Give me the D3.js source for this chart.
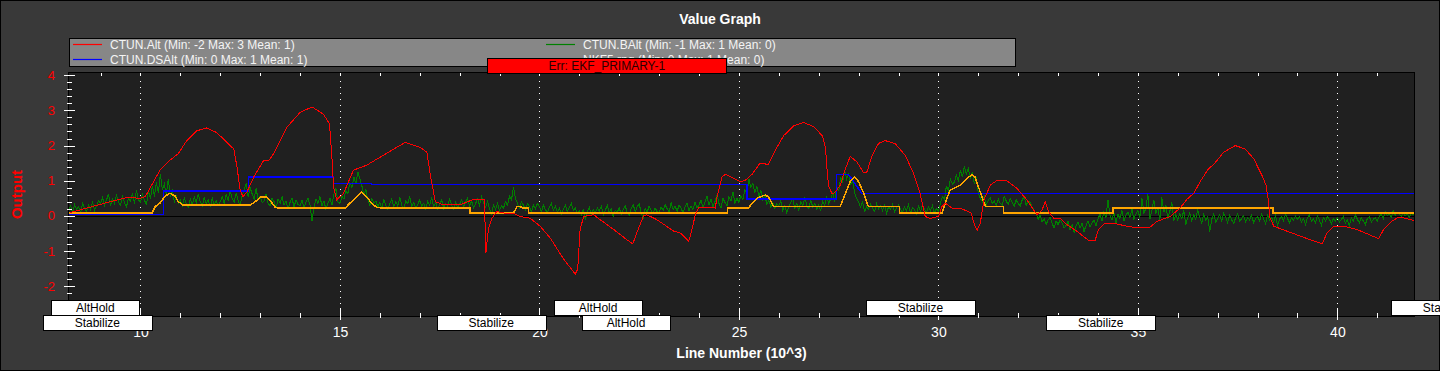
<!DOCTYPE html>
<html>
<head>
<meta charset="utf-8">
<script src="https://cdn.jsdelivr.net/npm/d3@7/dist/d3.min.js"></script>
<style>
  body { margin: 0; background: #393939; }
  svg { display: block; font-family: "Liberation Sans", Arial, sans-serif; }
</style>
</head>
<body>
<svg></svg>
<script>
// ---- data (x = line number / 1000) ----
const altData = [
  [8.24,0.09],[9.24,0.40],[9.66,0.52],[9.99,0.50],[10.12,0.54],[10.49,1.30],[10.74,1.58],[10.95,1.77],
  [11.16,2.14],[11.41,2.42],[11.66,2.50],[11.91,2.37],[12.17,2.09],[12.34,1.90],[12.42,1.39],[12.50,0.73],
  [12.57,0.54],[12.67,0.68],[12.84,1.10],[13.09,1.58],[13.21,1.56],[13.34,1.77],[13.67,2.52],[14.00,2.94],
  [14.30,3.10],[14.59,2.89],[14.74,2.61],[14.80,1.67],[14.84,0.83],[14.92,0.45],[15.09,0.64],[15.34,1.30],
  [15.67,1.44],[16.01,1.67],[16.35,1.90],[16.64,2.09],[17.01,1.95],[17.18,1.81],[17.26,1.20],[17.39,0.40],
  [17.60,0.31],[18.01,0.31],[18.31,0.45],[18.62,0.45],[18.66,-1.05],[18.72,-0.39],[18.81,-0.07],[18.93,0.12],
  [19.10,0.08],[19.36,0.06],[19.52,-0.02],[19.77,-0.07],[20.02,-0.30],[20.27,-0.63],[20.61,-1.24],[20.90,-1.66],
  [20.96,-1.52],[21.02,-0.39],[21.11,-0.02],[21.36,0.03],[21.52,-0.11],[21.86,-0.39],[22.19,-0.68],[22.34,-0.80],
  [22.44,-0.49],[22.61,0.00],[22.69,0.03],[22.94,-0.11],[23.37,-0.44],[23.53,-0.49],[23.74,-0.72],[23.78,-0.58],
  [23.91,0.03],[23.99,0.24],[24.20,0.24],[24.41,0.22],[24.45,0.54],[24.58,1.11],[24.66,1.18],[24.83,1.09],
  [25.03,0.97],[25.16,1.01],[25.33,1.18],[25.53,1.50],[25.74,1.46],[25.91,1.86],[26.12,2.28],[26.37,2.56],
  [26.62,2.66],[26.87,2.54],[27.09,2.28],[27.17,1.95],[27.21,1.30],[27.25,0.83],[27.34,0.62],[27.42,0.68],
  [27.54,0.87],[27.67,1.34],[27.79,1.69],[27.96,1.53],[28.13,1.22],[28.21,1.25],[28.34,1.72],[28.50,2.06],
  [28.67,2.14],[28.92,2.05],[29.17,1.72],[29.38,1.20],[29.54,0.64],[29.67,-0.02],[29.79,-0.08],[30.00,-0.02],
  [30.09,0.26],[30.17,0.36],[30.34,0.22],[30.54,0.22],[30.82,0.08],[30.89,-0.21],[30.97,-0.42],[31.05,-0.21],
  [31.14,0.45],[31.30,0.87],[31.47,1.01],[31.72,0.99],[31.97,0.78],[32.22,0.45],[32.47,0.03],[32.60,0.17],
  [32.68,0.40],[32.76,0.12],[32.89,-0.07],[33.05,-0.07],[33.22,-0.25],[33.47,-0.44],[33.76,-0.70],[33.93,-0.70],
  [34.01,-0.39],[34.18,-0.21],[34.39,-0.21],[34.65,-0.28],[34.90,-0.33],[35.31,-0.32],[35.48,-0.16],[35.81,-0.02],
  [36.06,0.22],[36.23,0.47],[36.40,0.64],[36.56,0.97],[36.77,1.34],[36.90,1.46],[37.15,1.81],[37.44,2.00],
  [37.69,1.90],[37.90,1.63],[38.11,1.15],[38.21,0.87],[38.27,0.45],[38.31,-0.07],[38.41,-0.30],[38.74,-0.44],
  [39.07,-0.58],[39.41,-0.72],[39.62,-0.80],[39.74,-0.49],[39.91,-0.30],[40.16,-0.30],[40.49,-0.39],[40.82,-0.55],
  [41.03,-0.65],[41.16,-0.39],[41.36,-0.16],[41.53,-0.04],[41.70,-0.07],[41.92,-0.14]
];

const dsAltData = [
  [8.21,0.03],[10.58,0.03],[10.58,0.70],[12.71,0.70],[12.71,1.11],[14.84,1.11],[14.84,0.92],[15.79,0.92],
  [15.79,0.89],[25.20,0.89],[25.20,0.48],[27.44,0.48],[27.44,1.17],[27.75,1.17],[28.08,0.64],[41.92,0.64]
];

const rngData = [
  [8.21,0.08],[10.29,0.08],[10.37,0.26],[10.49,0.36],[10.62,0.56],[10.74,0.64],[10.87,0.56],[10.95,0.40],
  [11.06,0.31],[12.75,0.31],[12.88,0.40],[13.00,0.53],[13.17,0.53],[13.30,0.36],[13.38,0.24],[13.46,0.22],
  [15.13,0.22],[15.25,0.36],[15.42,0.54],[15.54,0.67],[15.67,0.54],[15.79,0.36],[15.92,0.24],[16.05,0.22],
  [18.26,0.22],[18.26,0.08],[19.35,0.08],[19.44,0.26],[19.52,0.26],[19.59,0.22],[19.73,0.22],[19.73,0.08],
  [24.72,0.08],[24.72,0.22],[25.24,0.22],[25.33,0.36],[25.45,0.50],[25.66,0.59],[25.74,0.54],[25.87,0.26],
  [27.54,0.26],[27.67,0.64],[27.79,0.97],[27.90,1.11],[28.00,0.97],[28.13,0.64],[28.21,0.36],[28.25,0.26],
  [29.02,0.26],[29.02,0.08],[30.09,0.08],[30.17,0.36],[30.29,0.73],[30.38,0.78],[30.54,0.87],[30.71,1.06],
  [30.84,1.17],[30.92,1.10],[31.00,0.83],[31.12,0.45],[31.18,0.26],[31.63,0.26],[31.63,0.08],[34.38,0.08],
  [34.38,0.22],[38.39,0.22],[38.39,0.08],[41.92,0.08]
];

// barometer altitude, one sample every 0.05 (thousand lines) from 8.2
const bAltStart = 8.2;
const bAltStep = 0.05;
const bAltValues = [
  0.15,0.28,0.10,0.32,0.18,0.25,0.08,0.35,0.22,0.12,0.30,0.18,0.38,0.15,0.28,0.42,
  0.35,0.52,0.30,0.45,0.62,0.28,0.48,0.35,0.58,0.40,0.30,0.55,0.38,0.25,0.50,0.42,0.65,0.35,0.72,0.45,
  0.38,0.62,0.45,0.30,0.70,0.48,0.85,0.55,0.95,0.65,1.20,0.75,0.90,0.60,1.05,0.55,0.70,0.40,0.55,0.35,
  0.45,0.28,0.50,0.35,0.25,0.48,0.30,0.55,0.38,0.62,0.40,0.28,0.52,0.35,0.45,0.25,0.50,0.32,0.42,0.28,
  0.40,0.55,0.35,0.60,0.45,0.72,0.50,0.38,0.65,0.42,0.30,0.58,0.75,0.92,0.55,0.80,0.62,0.48,0.78,0.45,
  0.55,0.38,0.42,0.62,0.35,0.28,0.50,0.40,0.22,0.48,0.35,0.55,0.30,0.42,0.20,0.38,0.50,0.25,0.45,0.32,
  0.28,0.45,0.22,0.38,0.50,0.30,-0.15,0.25,0.48,0.35,0.55,0.28,0.42,0.18,0.35,0.50,0.30,0.62,0.78,0.40,
  0.35,0.55,0.48,0.72,0.62,0.95,0.80,1.10,0.90,1.25,1.05,0.85,0.60,0.75,0.45,0.30,0.50,0.35,0.42,0.25,
  0.38,0.22,0.45,0.30,0.18,0.35,0.48,0.25,0.40,0.28,0.52,0.30,0.20,0.42,0.35,0.55,0.25,0.38,0.22,0.32,
  0.45,0.28,0.35,0.18,0.40,0.30,0.52,0.25,0.38,0.20,0.32,0.45,0.22,0.35,0.28,0.48,0.30,0.18,0.38,0.25,
  0.32,0.45,0.25,0.38,0.50,0.28,0.42,0.22,0.35,0.48,0.30,0.55,0.38,0.25,0.40,0.20,0.05,0.30,0.18,0.35,
  0.15,0.28,0.22,0.40,0.30,0.55,0.45,0.82,0.50,0.35,0.22,0.40,0.30,0.18,0.35,0.25,0.12,0.30,0.20,0.35,
  0.25,0.12,0.30,0.18,0.08,0.25,0.35,0.15,0.28,0.10,0.22,0.05,0.18,0.30,0.12,0.25,0.35,0.15,0.22,0.08,
  0.15,0.02,0.20,-0.12,0.10,0.25,0.05,0.18,0.08,0.22,0.12,0.28,0.02,0.15,0.30,0.08,0.20,-0.02,0.15,0.10,
  0.22,0.05,0.18,0.28,0.10,0.02,0.20,0.32,0.12,0.25,0.35,0.08,-0.08,0.20,0.10,0.28,0.15,0.05,0.22,0.12,
  0.08,0.25,0.15,0.32,0.20,0.10,0.38,0.18,0.28,0.12,0.30,0.22,0.08,0.25,0.35,0.15,0.28,0.18,0.40,0.22,
  0.30,0.45,0.22,0.38,0.55,0.30,0.48,0.25,0.40,0.60,0.35,0.22,0.50,0.38,0.28,0.55,0.42,0.68,0.35,0.50,
  0.38,0.58,0.45,0.75,0.60,1.05,0.80,0.92,0.65,0.85,0.55,0.72,0.45,0.60,0.32,0.45,0.25,0.38,0.20,0.35,
  0.28,0.42,0.15,0.30,0.08,0.25,0.38,0.48,0.22,0.35,0.15,0.40,0.28,0.52,0.30,0.20,0.45,0.25,0.35,0.18,
  0.30,0.15,0.42,0.28,0.55,0.35,0.48,0.65,0.40,0.85,0.70,1.10,0.95,1.30,1.05,1.22,0.90,1.00,0.65,0.50,
  0.38,0.25,0.40,0.10,0.28,0.18,0.32,0.22,0.12,0.35,0.20,0.28,0.15,0.30,0.08,0.25,0.18,0.32,0.12,0.22,
  0.30,0.18,0.10,0.25,0.15,0.32,0.08,0.22,0.18,0.05,0.28,0.12,0.30,0.20,0.10,0.25,0.15,0.28,0.08,0.20,
  0.12,0.35,0.55,0.45,0.85,0.70,1.05,0.90,0.95,1.15,1.00,1.30,1.10,1.40,1.20,1.35,1.05,1.25,0.90,1.10,
  0.65,0.50,0.40,0.55,0.30,0.45,0.52,0.35,0.42,0.28,0.48,0.35,0.30,0.55,0.42,0.32,0.50,0.38,0.28,0.45,
  0.35,0.28,0.45,0.55,0.30,0.42,0.38,0.25,0.15,0.05,-0.10,0.02,-0.18,-0.08,-0.25,-0.12,-0.05,-0.22,-0.35,-0.15,
  -0.25,-0.12,-0.20,-0.35,-0.28,-0.15,-0.40,-0.25,-0.48,-0.30,-0.18,-0.35,-0.22,-0.45,-0.28,-0.15,-0.32,-0.20,-0.12,-0.28,
  -0.10,0.05,-0.15,0.12,-0.05,0.45,0.02,-0.12,0.08,-0.20,0.05,-0.08,0.15,-0.15,0.02,0.10,-0.05,0.20,-0.10,0.05,
  0.15,-0.05,0.50,0.08,0.20,0.62,-0.10,0.15,0.45,0.05,0.25,-0.12,0.52,0.10,0.30,-0.08,0.12,0.40,-0.15,0.05,
  -0.12,0.05,-0.08,0.15,-0.25,-0.05,0.08,-0.15,0.02,-0.10,0.18,-0.05,-0.22,0.05,-0.12,-0.02,-0.45,-0.10,0.05,-0.18,
  -0.08,0.02,-0.15,0.08,-0.05,-0.20,0.02,-0.12,-0.22,-0.05,0.05,-0.15,-0.08,0.00,-0.18,-0.05,-0.12,0.02,-0.20,-0.08,
  -0.02,-0.15,0.05,-0.08,-0.22,0.02,-0.12,-0.05,-0.18,0.00,-0.28,-0.10,-0.02,-0.15,0.05,-0.08,-0.20,-0.05,-0.12,0.00,
  -0.10,-0.02,-0.18,-0.08,-0.25,-0.05,0.02,-0.15,-0.08,-0.20,0.00,-0.12,-0.28,-0.05,-0.15,-0.02,-0.10,-0.22,-0.08,-0.15,
  -0.05,-0.18,-0.10,-0.02,-0.22,-0.12,-0.28,-0.05,-0.15,0.02,-0.10,-0.20,-0.05,-0.15,-0.25,-0.08,-0.02,-0.18,-0.10,-0.05,
  -0.15,-0.02,0.05,-0.08,0.12,0.00,0.08,-0.05,0.15,0.02,0.10,0.05,-0.02,0.10,0.00,0.06,-0.05,0.08,0.02,0.05
];

const seriesNames = ["CTUN.Alt", "CTUN.BAlt", "CTUN.DSAlt", "NKF5.rng"];
const seriesStats = ["(Min: -2 Max: 3 Mean: 1)", "(Min: -1 Max: 1 Mean: 0)", "(Min: 0 Max: 1 Mean: 1)", "(Min: 0 Max: 1 Mean: 0)"];

const modeNames = ["AltHold", "Stabilize", "Stabilize", "AltHold", "AltHold", "Stabilize", "Stabilize", "Stabilize"];
const modeAt = [8.87, 8.92, 18.79, 21.47, 22.17, 29.55, 34.07, 42.71];
const modeRow = [0, 1, 1, 0, 1, 0, 1, 0];

const errNames = ["Err: EKF_PRIMARY-1"];
const errAt = [21.69];

const yMajor = [-2, -1, 0, 1, 2, 3, 4];
const xMajor = [10, 15, 20, 25, 30, 35, 40];

// ---- layout ----
const W = 1440, H = 371;
const margin = { top: 73, right: 26, bottom: 55, left: 69 };
const width = W - margin.left - margin.right;
const height = H - margin.top - margin.bottom;

const colors = { alt: "#ff0000", balt: "#008000", dsalt: "#0000ff", rng: "#ffa500" };
const legendColors = [colors.alt, colors.balt, colors.dsalt, colors.rng];
const modeBoxWidth = { AltHold: 88, Stabilize: 109 };

const svg = d3.select("svg").attr("width", W).attr("height", H);

svg.append("rect")
    .attr("x", 0.5).attr("y", 0.5)
    .attr("width", W - 1).attr("height", H - 1)
    .attr("fill", "#393939")
    .attr("stroke", "#000");

const x = d3.scaleLinear().domain([8.21, 41.92]).range([0, width]);
const y = d3.scaleLinear().domain([-2.855, 4.066]).range([height, 0]);

const g = svg.append("g").attr("transform", `translate(${margin.left},${margin.top})`);

g.append("rect").attr("width", width).attr("height", height).attr("fill", "#202020");

g.append("clipPath").attr("id", "plotclip")
    .append("rect").attr("width", width).attr("height", height);

// dotted vertical grid
g.append("g").selectAll("line").data(xMajor).join("line")
    .attr("x1", d => Math.round(x(d)) + 0.5).attr("x2", d => Math.round(x(d)) + 0.5)
    .attr("y1", 2).attr("y2", height)
    .attr("stroke", "#fff")
    .attr("stroke-dasharray", "1,5")
    .attr("shape-rendering", "crispEdges");

// zero line
g.append("line")
    .attr("x1", 0).attr("x2", width)
    .attr("y1", Math.round(y(0)) + 0.5).attr("y2", Math.round(y(0)) + 0.5)
    .attr("stroke", "#000")
    .attr("shape-rendering", "crispEdges");

const plot = g.append("g").attr("clip-path", "url(#plotclip)");
const line = d3.line().x(d => x(d[0])).y(d => y(d[1]));

const bAltData = bAltValues.map((v, i) => [bAltStart + i * bAltStep, v]);

plot.append("path").datum(bAltData)
    .attr("fill", "none").attr("stroke", colors.balt).attr("stroke-width", 1)
    .attr("shape-rendering", "crispEdges")
    .attr("d", line);

plot.append("path").datum(dsAltData)
    .attr("fill", "none").attr("stroke", colors.dsalt).attr("stroke-width", 1.5)
    .attr("shape-rendering", "crispEdges")
    .attr("d", line);

plot.append("path").datum(rngData)
    .attr("fill", "none").attr("stroke", colors.rng).attr("stroke-width", 1.5)
    .attr("shape-rendering", "crispEdges")
    .attr("d", line);

plot.append("path").datum(altData)
    .attr("fill", "none").attr("stroke", colors.alt).attr("stroke-width", 1)
    .attr("shape-rendering", "crispEdges")
    .attr("d", line);

// plot frame
g.append("rect")
    .attr("x", -0.5).attr("y", -0.5)
    .attr("width", width + 1).attr("height", height + 1)
    .attr("fill", "none").attr("stroke", "#000")
    .attr("shape-rendering", "crispEdges");

// ---- axes ----
const yMinor = d3.range(-2.8, 4.01, 0.2).map(v => +v.toFixed(1)).filter(v => !Number.isInteger(v));
const xMinor = d3.range(9, 42, 1).filter(v => v % 5 !== 0);
const xAll = d3.range(9, 42, 1);

function styleAxis(sel) {
    sel.select(".domain").remove();
    sel.selectAll("line").attr("stroke", "#fff").attr("shape-rendering", "crispEdges");
    return sel;
}

// left axis: major ticks across the frame, labels in red
g.append("g")
    .call(d3.axisLeft(y).tickValues(yMajor).tickSize(5).tickPadding(9).tickFormat(d => String(d)))
    .call(styleAxis)
    .call(s => s.selectAll("text").attr("fill", "#ff0000").style("font-size", "13px").style("font-family", "Liberation Sans, Arial, sans-serif"));
g.append("g")
    .call(d3.axisRight(y).tickValues(yMajor).tickSize(6).tickFormat(""))
    .call(styleAxis);
g.append("g")
    .call(d3.axisLeft(y).tickValues(yMinor).tickSize(2).tickFormat(""))
    .call(styleAxis);
g.append("g")
    .call(d3.axisRight(y).tickValues(yMinor).tickSize(3).tickFormat(""))
    .call(styleAxis);

// bottom axis
g.append("g").attr("transform", `translate(0,${height})`)
    .call(d3.axisBottom(x).tickValues(xMajor).tickSize(4).tickPadding(7).tickFormat(d => String(d)))
    .call(styleAxis)
    .call(s => s.selectAll("text").attr("fill", "#ffffff").style("font-size", "14px").style("font-family", "Liberation Sans, Arial, sans-serif"));
g.append("g").attr("transform", `translate(0,${height})`)
    .call(d3.axisTop(x).tickValues(xMajor).tickSize(8).tickFormat(""))
    .call(styleAxis);
g.append("g").attr("transform", `translate(0,${height})`)
    .call(d3.axisTop(x).tickValues(xMinor).tickSize(3).tickFormat(""))
    .call(styleAxis);
g.append("g").attr("transform", `translate(0,${height})`)
    .call(d3.axisBottom(x).tickValues(xMinor).tickSize(2).tickFormat(""))
    .call(styleAxis);

// top frame ticks pointing in
g.append("g")
    .call(d3.axisBottom(x).tickValues(xAll).tickSize(3).tickFormat(""))
    .call(styleAxis);

// ---- titles ----
svg.append("text")
    .attr("x", W / 2).attr("y", 24)
    .attr("text-anchor", "middle")
    .attr("fill", "#ffffff")
    .style("font-size", "14px").style("font-weight", "bold")
    .text("Value Graph");

svg.append("text")
    .attr("x", margin.left + width / 2).attr("y", 358)
    .attr("text-anchor", "middle")
    .attr("fill", "#ffffff")
    .style("font-size", "14px").style("font-weight", "bold")
    .text("Line Number (10^3)");

svg.append("text")
    .attr("transform", `translate(22,${margin.top + height / 2}) rotate(-90)`)
    .attr("text-anchor", "middle")
    .attr("fill", "#ff0000")
    .style("font-size", "15px").style("font-weight", "bold")
    .text("Output");

// ---- legend ----
const legend = svg.append("g").attr("transform", "translate(69,38)");
legend.append("rect")
    .attr("x", 0.5).attr("y", 0.5)
    .attr("width", 946).attr("height", 28)
    .attr("fill", "#878787").attr("stroke", "#000")
    .attr("shape-rendering", "crispEdges");

const legendCols = [4, 477];
seriesNames.forEach((name, i) => {
    const cx = legendCols[i % 2];
    const cy = i < 2 ? 6.5 : 21.5;
    legend.append("line")
        .attr("x1", cx).attr("x2", cx + 29)
        .attr("y1", cy).attr("y2", cy)
        .attr("stroke", legendColors[i]).attr("stroke-width", 1.2);
    legend.append("text")
        .attr("x", cx + 37).attr("y", cy + 4.5)
        .attr("fill", "#f4f4f4")
        .style("font-size", "12px")
        .text(`${name} ${seriesStats[i]}`);
});

// ---- error annotation ----
const errG = svg.append("g");
errNames.forEach((name, i) => {
    const cx = margin.left + x(errAt[i]);
    const t = errG.append("text")
        .attr("x", cx).attr("y", 69.5)
        .attr("text-anchor", "middle")
        .attr("fill", "#2a0000")
        .style("font-size", "12px")
        .text(name);
    const w = t.node().getComputedTextLength() * 2.05;
    errG.insert("rect", "text")
        .attr("x", Math.round(cx - w / 2) + 0.5).attr("y", 58.5)
        .attr("width", Math.round(w)).attr("height", 14.5)
        .attr("fill", "#ff0000").attr("stroke", "#000")
        .attr("shape-rendering", "crispEdges");
});

// ---- flight mode labels ----
const modeG = svg.append("g");
modeNames.forEach((name, i) => {
    const cx = margin.left + x(modeAt[i]);
    const top = modeRow[i] === 0 ? 300.5 : 315.5;
    const w = modeBoxWidth[name];
    modeG.append("rect")
        .attr("x", Math.round(cx - w / 2) + 0.5).attr("y", top)
        .attr("width", w).attr("height", 15)
        .attr("fill", "#ffffff").attr("stroke", "#000")
        .attr("shape-rendering", "crispEdges");
    modeG.append("text")
        .attr("x", cx).attr("y", top + 11.5)
        .attr("text-anchor", "middle")
        .attr("fill", "#000")
        .style("font-size", "12px")
        .text(name);
});
</script>
</body>
</html>
